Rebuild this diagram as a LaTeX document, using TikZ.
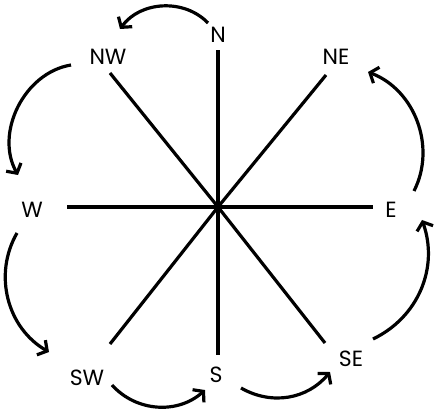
\documentclass[tikz,border=0pt]{standalone}
\usepackage{fontspec}
\setmainfont{Poppins}
\usetikzlibrary{arrows.meta}
\begin{document}
\begin{tikzpicture}[x=1pt,y=1pt,
  spoke/.style={line width=3.2pt},
  lbl/.style={font=\fontsize{22}{24}\selectfont, inner sep=0pt},
  turn/.style={line width=3.2pt, -{Straight Barb[length=7pt,width=17pt,line width=3.2pt]}},
]
\useasboundingbox (0,0) rectangle (436,410);
\coordinate (c) at (218,203);
% spoke ends
\coordinate (eN) at (218,360);
\coordinate (eS) at (218,55);
\coordinate (eW) at (67,203);
\coordinate (eE) at (373,203);
\coordinate (eNW) at (110,337);
\coordinate (eNE) at (326,335);
\coordinate (eSW) at (110,66);
\coordinate (eSE) at (325,67);
% labels
\node[lbl] (N) at (218,375) {N};
\node[lbl] (NW) at (108,353) {NW};
\node[lbl] (NE) at (336,353) {NE};
\node[lbl] (W) at (32,200) {W};
\node[lbl] (E) at (391,200) {E};
\node[lbl] (SW) at (87,32) {SW};
\node[lbl] (S) at (216,35) {S};
\node[lbl] (SE) at (351,51) {SE};
% spokes
\foreach \e in {eN,eS,eW,eE,eNW,eNE,eSW,eSE} \draw[spoke] (c) -- (\e);
% arrow ends
\coordinate (a1) at (208,387); \coordinate (b1) at (120,381);
\coordinate (a2) at (71,345);  \coordinate (b2) at (18,235);
\coordinate (a3) at (17,177);  \coordinate (b3) at (49,58);
\coordinate (a4) at (112,25);  \coordinate (b4) at (205,20);
\coordinate (a5) at (241,22);  \coordinate (b5) at (330,38);
\coordinate (a6) at (373,71);  \coordinate (b6) at (422,190);
\coordinate (a7) at (414,219); \coordinate (b7) at (368,338);
\draw[turn] (a1) to[bend right=50] (b1);
\draw[turn] (a2) to[bend right=55] (b2);
\draw[turn] (a3) to[bend right=45] (b3);
\draw[turn] (a4) to[bend right=45] (b4);
\draw[turn] (a5) to[bend right=40] (b5);
\draw[turn] (a6) to[bend right=42] (b6);
\draw[turn] (a7) to[bend right=48] (b7);
\end{tikzpicture}
\end{document}
